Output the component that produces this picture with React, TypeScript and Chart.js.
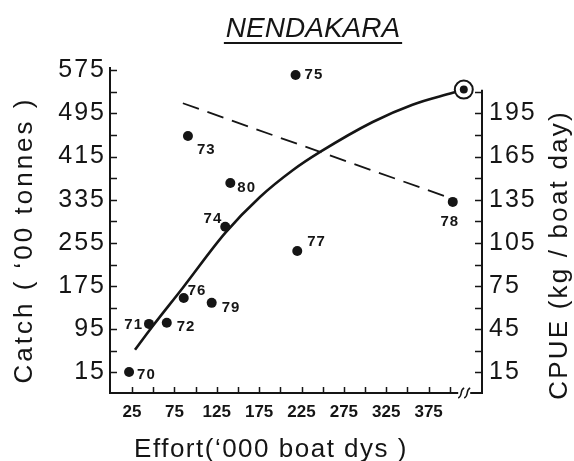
import { useEffect, useRef } from 'react';
import { Chart, registerables } from 'chart.js';

Chart.register(...registerables);

// Year of each observation
const years = ['70', '71', '72', '73', '74', '75', '76', '77', '78', '79', '80'];
// Effort ('000 boat days)
const effort = [21.5, 45, 66, 91, 135, 218, 86, 220, 403.5, 119, 141];
// Catch ('00 tonnes)
const catchValues = [16, 105, 107, 453, 285, 566, 153, 240, 331, 144, 366];

// Fitted catch curve (effort, catch)
const curveEffort = [28.5, 45, 85, 135, 176, 215, 247, 309, 356, 403.5, 416.5];
const curveCatch = [57, 92, 172, 273.5, 340, 390, 423.5, 479, 511, 533, 539];

// Circled maximum point
const maxEffort = [416.5];
const maxCatch = [539];

// CPUE trend line (kg / boat day)
const cpueEffort = [85, 394];
const cpueValues = [202, 137.5];

// Tick labels
const effortTicks = [25, 75, 125, 175, 225, 275, 325, 375];
const catchTicks = [15, 95, 175, 255, 335, 415, 495, 575];
const cpueTicks = [15, 45, 75, 105, 135, 165, 195];

// Label placement for year labels: [dx, dy, align]
const labelPlacement: [number, number, CanvasTextAlign][] = [
  [8, 3, 'left'],
  [-6, 1, 'right'],
  [10, 4, 'left'],
  [9, 14, 'left'],
  [-3, -8, 'right'],
  [9, 0, 'left'],
  [4, -7, 'left'],
  [10, -9, 'left'],
  [-3, 20, 'center'],
  [10, 5, 'left'],
  [7, 5, 'left'],
];

const INK = '#151515';
const FONT = '"Liberation Sans", Arial, sans-serif';

const decorPlugin = {
  id: 'decor',
  beforeDraw(chart: any) {
    const spacing: Record<string, string> = { x: '0px', y: '2px', y1: '2px' };
    for (const id of ['x', 'y', 'y1']) {
      const s = chart.scales[id];
      if (s && !s.__wrapped) {
        const orig = s.drawLabels.bind(s);
        s.drawLabels = (area: any) => {
          const ctx = chart.ctx;
          ctx.save();
          (ctx as any).letterSpacing = spacing[id];
          orig(area);
          ctx.restore();
        };
        s.__wrapped = true;
      }
    }
  },
  afterDraw(chart: any) {
    const ctx: CanvasRenderingContext2D = chart.ctx;
    const { x, y, y1 } = chart.scales;
    const area = chart.chartArea;
    ctx.save();
    ctx.strokeStyle = INK;
    ctx.fillStyle = INK;
    ctx.lineWidth = 1.5;

    // inward tick marks
    ctx.beginPath();
    for (let v = 25; v <= 400; v += 25) {
      const px = Math.round(x.getPixelForValue(v)) + 0.5;
      ctx.moveTo(px, area.bottom);
      ctx.lineTo(px, area.bottom - 6);
    }
    for (let v = catchTicks[0]; v <= catchTicks[catchTicks.length - 1]; v += 40) {
      const py = Math.round(y.getPixelForValue(v)) + 0.5;
      ctx.moveTo(area.left, py);
      ctx.lineTo(area.left + 7, py);
    }
    for (let v = cpueTicks[0]; v <= 210; v += 15) {
      const py = Math.round(y1.getPixelForValue(v)) + 0.5;
      ctx.moveTo(area.right, py);
      ctx.lineTo(area.right - 7, py);
    }
    ctx.stroke();

    // right axis line
    ctx.lineWidth = 2;
    ctx.beginPath();
    ctx.moveTo(area.right, area.bottom + 1);
    ctx.lineTo(area.right, y1.getPixelForValue(210) - 2);
    ctx.stroke();

    // axis break symbol
    const bx = x.getPixelForValue(417);
    ctx.lineWidth = 1.5;
    ctx.fillStyle = '#fff';
    ctx.fillRect(bx - 6, area.bottom - 3, 12, 6);
    for (const off of [-3, 3]) {
      ctx.beginPath();
      ctx.moveTo(bx + off - 3, area.bottom + 5);
      ctx.bezierCurveTo(bx + off + 2, area.bottom + 3, bx + off - 2, area.bottom - 3, bx + off + 3, area.bottom - 5);
      ctx.stroke();
    }

    // year labels
    ctx.fillStyle = INK;
    const meta = chart.getDatasetMeta(2);
    ctx.font = `bold 15px ${FONT}`;
    (ctx as any).letterSpacing = '1px';
    ctx.textBaseline = 'middle';
    meta.data.forEach((el: any, i: number) => {
      const [dx, dy, align] = labelPlacement[i];
      ctx.textAlign = align;
      ctx.fillText(years[i], el.x + dx, el.y + dy);
    });
    (ctx as any).letterSpacing = '0px';

    // chart title
    ctx.font = `italic 28px ${FONT}`;
    ctx.textAlign = 'center';
    ctx.textBaseline = 'alphabetic';
    const title = 'NENDAKARA';
    const tx = (area.left + area.right) / 2 + 17;
    ctx.fillText(title, tx, 37);
    const tw = ctx.measureText(title).width;
    ctx.lineWidth = 2;
    ctx.beginPath();
    ctx.moveTo(tx - tw / 2 - 2, 43);
    ctx.lineTo(tx + tw / 2 + 2, 43);
    ctx.stroke();

    // axis titles
    ctx.font = `26px ${FONT}`;
    (ctx as any).letterSpacing = '1.5px';
    ctx.textAlign = 'center';
    ctx.fillText('Effort(\u2018000 boat dys )', (area.left + area.right) / 2 - 25, 457);

    ctx.save();
    (ctx as any).letterSpacing = '3px';
    ctx.translate(32, 240);
    ctx.rotate(-Math.PI / 2);
    ctx.fillText('Catch ( \u201800 tonnes )', 0, 0);
    ctx.restore();

    ctx.save();
    (ctx as any).letterSpacing = '2.2px';
    ctx.translate(567, 255);
    ctx.rotate(-Math.PI / 2);
    ctx.fillText('CPUE (kg / boat day)', 0, 0);
    ctx.restore();

    ctx.restore();
  },
};

export default function App() {
  const ref = useRef<HTMLCanvasElement>(null);

  useEffect(() => {
    if (!ref.current) return;
    const chart = new Chart(ref.current, {
      type: 'scatter',
      data: {
        datasets: [
          {
            label: 'max',
            data: maxEffort.map((e, i) => ({ x: e, y: maxCatch[i] })),
            pointRadius: 4,
            backgroundColor: INK,
            borderWidth: 0,
            yAxisID: 'y',
            order: 0,
          },
          {
            label: 'ring',
            data: maxEffort.map((e, i) => ({ x: e, y: maxCatch[i] })),
            pointRadius: 9,
            backgroundColor: '#fff',
            borderColor: INK,
            borderWidth: 2,
            yAxisID: 'y',
            order: 1,
          },
          {
            label: 'Catch',
            data: effort.map((e, i) => ({ x: e, y: catchValues[i] })),
            pointRadius: 5,
            backgroundColor: INK,
            borderWidth: 0,
            yAxisID: 'y',
            order: 2,
          },
          {
            label: 'curve',
            data: curveEffort.map((e, i) => ({ x: e, y: curveCatch[i] })),
            showLine: true,
            cubicInterpolationMode: 'monotone',
            borderColor: INK,
            borderWidth: 2.6,
            pointRadius: 0,
            yAxisID: 'y',
            order: 3,
          },
          {
            label: 'CPUE',
            data: cpueEffort.map((e, i) => ({ x: e, y: cpueValues[i] })),
            showLine: true,
            borderColor: INK,
            borderWidth: 1.8,
            borderDash: [17, 9],
            pointRadius: 0,
            yAxisID: 'y1',
            order: 4,
          },
        ] as any,
      },
      options: {
        responsive: false,
        animation: false,
        devicePixelRatio: 1,
        layout: { padding: { top: 68, left: 0, right: 0, bottom: 0 } },
        plugins: {
          legend: { display: false },
          tooltip: { enabled: false },
          title: { display: false },
        },
        scales: {
          x: {
            type: 'linear',
            position: 'bottom',
            min: -1,
            max: 438,
            afterBuildTicks: (s: any) => {
              s.ticks = effortTicks.map((v) => ({ value: v }));
            },
            afterFit: (s: any) => {
              s.height = 68;
            },
            grid: { drawOnChartArea: false, drawTicks: false },
            border: { display: true, color: INK, width: 2 },
            ticks: {
              padding: 9,
              color: INK,
              font: { family: FONT, size: 17, weight: 'bold' },
              maxRotation: 0,
              autoSkip: false,
            },
          },
          y: {
            type: 'linear',
            position: 'left',
            min: -23,
            max: 579,
            afterBuildTicks: (s: any) => {
              s.ticks = catchTicks.map((v) => ({ value: v }));
            },
            afterFit: (s: any) => {
              s.width = 110;
            },
            grid: { drawOnChartArea: false, drawTicks: false },
            border: { display: true, color: INK, width: 2 },
            ticks: {
              padding: 4,
              color: INK,
              font: { family: FONT, size: 25 },
              autoSkip: false,
            },
          },
          y1: {
            type: 'linear',
            position: 'right',
            min: 0.75,
            max: 226.5,
            afterBuildTicks: (s: any) => {
              s.ticks = cpueTicks.map((v) => ({ value: v }));
            },
            afterFit: (s: any) => {
              s.width = 92;
            },
            grid: { drawOnChartArea: false, drawTicks: false },
            border: { display: false },
            ticks: {
              padding: 7,
              color: INK,
              font: { family: FONT, size: 25 },
              autoSkip: false,
            },
          },
        },
      } as any,
      plugins: [decorPlugin],
    });
    return () => chart.destroy();
  }, []);

  return (
    <canvas
      ref={ref}
      width={574}
      height={461}
      style={{ position: 'fixed', left: 0, top: 0, width: 574, height: 461, background: '#fff' }}
    />
  );
}
